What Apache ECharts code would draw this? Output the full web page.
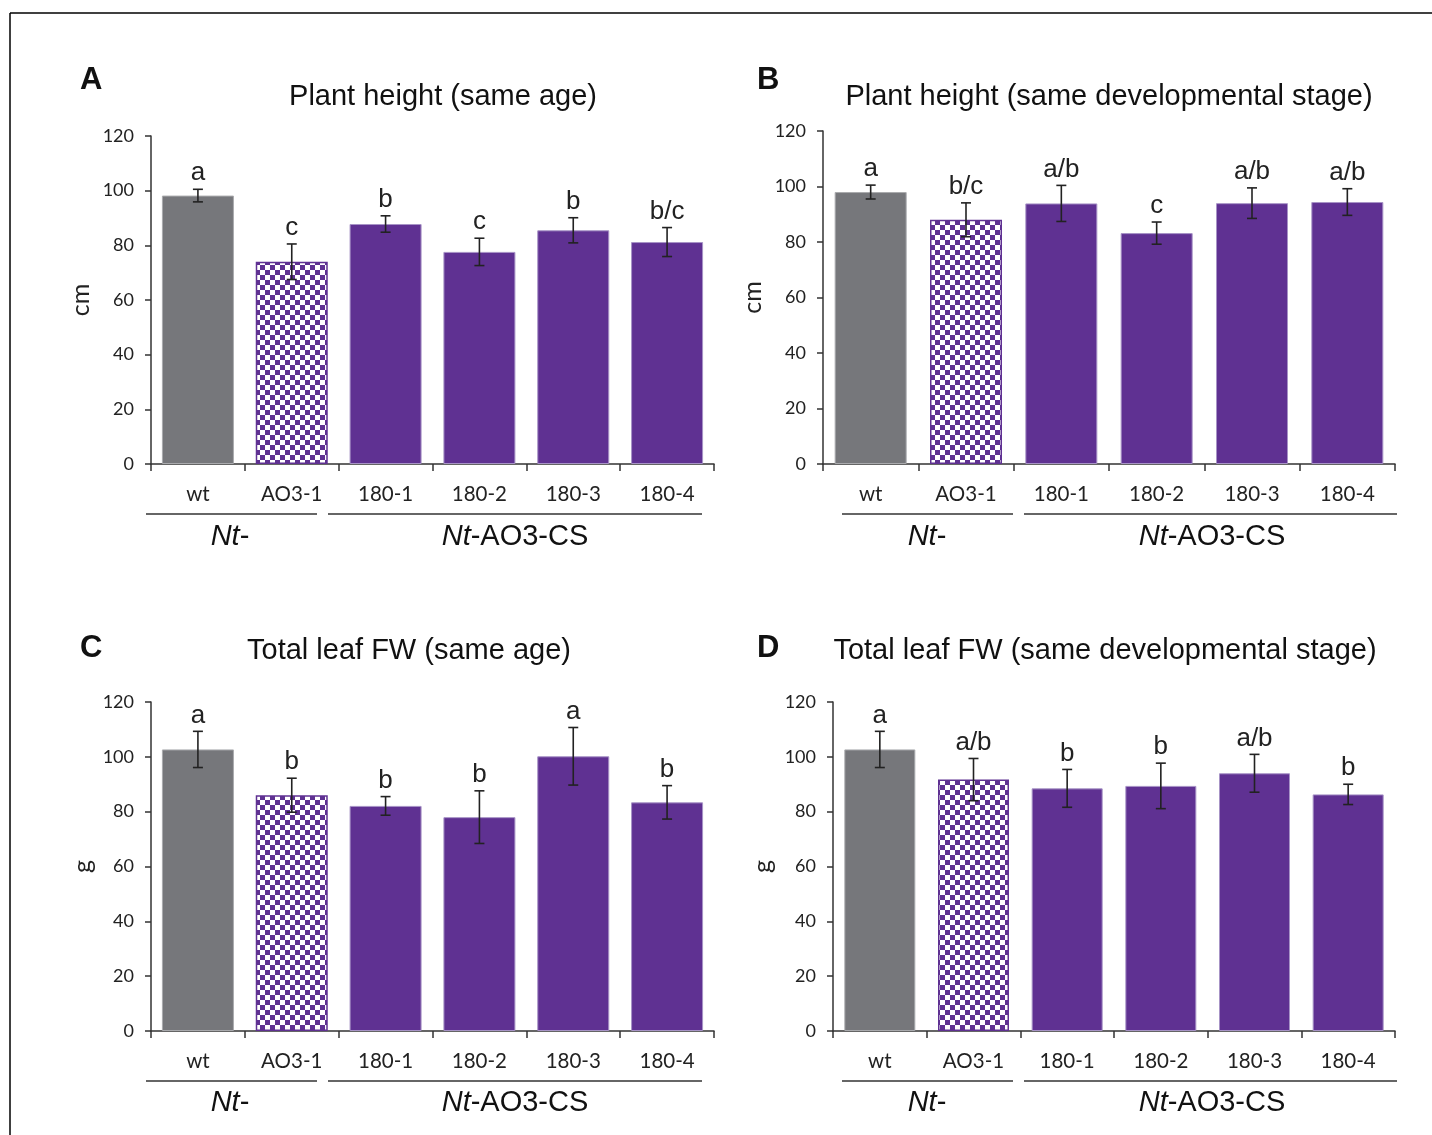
<!DOCTYPE html>
<html>
<head>
<meta charset="utf-8">
<script src="https://cdn.jsdelivr.net/npm/echarts@6/dist/echarts.min.js"></script>
<style>
  html, body { margin: 0; padding: 0; background: #fff; }
  #chart { width: 1432px; height: 1135px; }
</style>
</head>
<body>
<div id="chart"></div>
<script>
// categories and tick labels
const categories = ['wt', 'AO3-1', '180-1', '180-2', '180-3', '180-4'];
const yTicks = [0, 20, 40, 60, 80, 100, 120];

// A: plant height, same age (cm)
const heightAgeMean = [98.2, 74.0, 87.8, 77.6, 85.5, 81.2];
const heightAgeErr = [2.3, 6.5, 3.0, 5.0, 4.6, 5.3];
const heightAgeLetters = ['a', 'c', 'b', 'c', 'b', 'b/c'];

// B: plant height, same developmental stage (cm)
const heightStageMean = [98.0, 88.0, 93.9, 83.2, 94.0, 94.4];
const heightStageErr = [2.5, 6.1, 6.5, 4.0, 5.5, 4.8];
const heightStageLetters = ['a', 'b/c', 'a/b', 'c', 'a/b', 'a/b'];

// C: total leaf FW, same age (g)
const leafAgeMean = [102.7, 86.0, 82.1, 78.0, 100.2, 83.4];
const leafAgeErr = [6.6, 6.2, 3.4, 9.6, 10.5, 6.1];
const leafAgeLetters = ['a', 'b', 'b', 'b', 'a', 'b'];

// D: total leaf FW, same developmental stage (g)
const leafStageMean = [102.7, 91.7, 88.5, 89.4, 94.0, 86.3];
const leafStageErr = [6.6, 7.7, 6.9, 8.3, 6.9, 3.7];
const leafStageLetters = ['a', 'a/b', 'b', 'b', 'a/b', 'b'];

const GREY = '#76777b';
const PURPLE = '#5f3192';
const AXIS = '#333333';

// checker fill for the AO3-1 bar
function checker() {
  const c = document.createElement('canvas');
  c.width = 10; c.height = 10;
  const ctx = c.getContext('2d');
  ctx.fillStyle = PURPLE;
  ctx.fillRect(0, 0, 10, 10);
  ctx.fillStyle = '#ffffff';
  ctx.fillRect(0, 0, 5, 5);
  ctx.fillRect(5, 5, 5, 5);
  return c;
}
const checkerImg = checker();

const panels = [
  { tag: 'A', title: 'Plant height (same age)', unit: 'cm', mean: heightAgeMean, err: heightAgeErr, letters: heightAgeLetters,
    grid: { left: 151, top: 136, width: 563, height: 328 }, barW: 72, nameGap: 58,
    tagPos: [80, 80], titleX: 443, titleY: 97,
    lines: [[146, 317], [328, 702]], groupX: [230, 515], lineY: 514, groupY: 537 },
  { tag: 'B', title: 'Plant height (same developmental stage)', unit: 'cm', mean: heightStageMean, err: heightStageErr, letters: heightStageLetters,
    grid: { left: 823, top: 131, width: 572, height: 333 }, barW: 72, nameGap: 58,
    tagPos: [757, 80], titleX: 1109, titleY: 97,
    lines: [[842, 1013], [1024, 1397]], groupX: [927, 1212], lineY: 514, groupY: 537 },
  { tag: 'C', title: 'Total leaf FW (same age)', unit: 'g', mean: leafAgeMean, err: leafAgeErr, letters: leafAgeLetters,
    grid: { left: 151, top: 702, width: 563, height: 329 }, barW: 72, nameGap: 56,
    tagPos: [80, 648], titleX: 409, titleY: 651,
    lines: [[146, 317], [328, 702]], groupX: [230, 515], lineY: 1081, groupY: 1103 },
  { tag: 'D', title: 'Total leaf FW (same developmental stage)', unit: 'g', mean: leafStageMean, err: leafStageErr, letters: leafStageLetters,
    grid: { left: 833, top: 702, width: 562, height: 329 }, barW: 71, nameGap: 58,
    tagPos: [757, 648], titleX: 1105, titleY: 651,
    lines: [[842, 1013], [1024, 1397]], groupX: [927, 1212], lineY: 1081, groupY: 1103 }
];

function barColor(i) {
  if (i === 0) return { color: GREY, borderColor: '#a9aaad', borderWidth: 1 };
  if (i === 1) return { color: { image: checkerImg, repeat: 'repeat' }, borderColor: PURPLE, borderWidth: 1.5 };
  return { color: PURPLE, borderColor: '#a793c6', borderWidth: 1 };
}

const grids = [], xAxes = [], yAxes = [], series = [], graphics = [];

// outer frame (top and left rules)
graphics.push({ type: 'line', shape: { x1: 10, y1: 13, x2: 1432, y2: 13 }, style: { stroke: '#000', lineWidth: 1.5 } });
graphics.push({ type: 'line', shape: { x1: 10, y1: 13, x2: 10, y2: 1135 }, style: { stroke: '#000', lineWidth: 1.5 } });

panels.forEach((p, k) => {
  grids.push(Object.assign({ containLabel: false }, p.grid));
  xAxes.push({
    type: 'category', gridIndex: k, data: categories,
    axisLine: { lineStyle: { color: AXIS, width: 1.5 } },
    axisTick: { show: true, length: 7, lineStyle: { color: AXIS, width: 1.5 } },
    axisLabel: { color: '#222', fontSize: 20.5, fontFamily: 'Lato', margin: 20, interval: 0 }
  });
  yAxes.push({
    type: 'value', gridIndex: k, min: 0, max: 120, interval: 20,
    name: p.unit, nameLocation: 'middle', nameGap: p.nameGap, nameRotate: 90,
    nameTextStyle: { color: '#222', fontSize: 25, fontFamily: 'Lato' },
    axisLine: { show: true, lineStyle: { color: AXIS, width: 1.5 } },
    axisTick: { show: true, length: 6, lineStyle: { color: AXIS, width: 1.5 } },
    splitLine: { show: false },
    axisLabel: { color: '#222', fontSize: 18, fontFamily: 'Lato', margin: 17,
      formatter: v => yTicks.indexOf(v) >= 0 ? String(v) : '' }
  });
  series.push({
    type: 'bar', xAxisIndex: k, yAxisIndex: k, barWidth: p.barW, z: 2,
    data: p.mean.map((v, i) => ({ value: v, itemStyle: barColor(i) })),
    silent: true
  });
  series.push({
    type: 'custom', xAxisIndex: k, yAxisIndex: k, silent: true, z: 5,
    data: p.mean.map((v, i) => [i, v, p.err[i]]),
    encode: { x: 0, y: 1 },
    renderItem: (params, api) => {
      const i = api.value(0), m = api.value(1), e = api.value(2);
      const top = api.coord([i, m + e]);
      const bot = api.coord([i, m - e]);
      const cap = 5;
      const st = { stroke: '#222', lineWidth: 1.6 };
      return {
        type: 'group',
        children: [
          { type: 'line', shape: { x1: top[0], y1: top[1], x2: bot[0], y2: bot[1] }, style: st },
          { type: 'line', shape: { x1: top[0] - cap, y1: top[1], x2: top[0] + cap, y2: top[1] }, style: st },
          { type: 'line', shape: { x1: bot[0] - cap, y1: bot[1], x2: bot[0] + cap, y2: bot[1] }, style: st },
          { type: 'text', x: top[0], y: top[1] - 3,
            style: { text: p.letters[i], fill: '#222', fontSize: 26, fontFamily: 'Liberation Sans',
              textAlign: 'center', textVerticalAlign: 'bottom' } }
        ]
      };
    }
  });

  // panel letter and title
  graphics.push({ type: 'text', x: p.tagPos[0], y: p.tagPos[1],
    style: { text: p.tag, fill: '#111', fontSize: 31, fontWeight: 'bold', fontFamily: 'Liberation Sans', textVerticalAlign: 'middle' } });
  graphics.push({ type: 'text', x: p.titleX, y: p.titleY,
    style: { text: p.title, fill: '#111', fontSize: 29, fontFamily: 'Liberation Sans', textAlign: 'center', textVerticalAlign: 'middle' } });

  // group underlines and group names
  p.lines.forEach(l => {
    graphics.push({ type: 'line', shape: { x1: l[0], y1: p.lineY, x2: l[1], y2: p.lineY }, style: { stroke: AXIS, lineWidth: 1.5 } });
  });
  const rich = { i: { fontStyle: 'italic', fontSize: 29, fontFamily: 'Liberation Sans', fill: '#111' },
                 n: { fontSize: 29, fontFamily: 'Liberation Sans', fill: '#111' } };
  graphics.push({ type: 'text', x: p.groupX[0], y: p.groupY,
    style: { text: '{i|Nt}{n|-}', rich: rich, textAlign: 'center', textVerticalAlign: 'middle' } });
  graphics.push({ type: 'text', x: p.groupX[1], y: p.groupY,
    style: { text: '{i|Nt}{n|-AO3-CS}', rich: rich, textAlign: 'center', textVerticalAlign: 'middle' } });
});

const chart = echarts.init(document.getElementById('chart'), null, { renderer: 'canvas' });
chart.setOption({
  backgroundColor: '#ffffff',
  animation: false,
  grid: grids,
  xAxis: xAxes,
  yAxis: yAxes,
  series: series,
  graphic: { elements: graphics }
});
</script>
</body>
</html>
